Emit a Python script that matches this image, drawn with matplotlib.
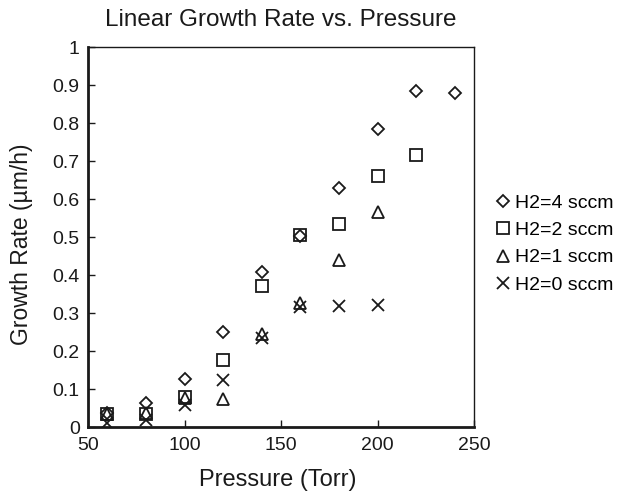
import matplotlib
matplotlib.use("Agg")
import matplotlib.pyplot as plt

plt.rcParams['font.family'] = ['Liberation Sans', 'DejaVu Sans']

# pressure (Torr) for each H2 flow
p_h4 = [60, 80, 100, 120, 140, 160, 180, 200, 220, 240]
rate_h4 = [0.036, 0.062, 0.127, 0.250, 0.408, 0.502, 0.628, 0.785, 0.885, 0.880]

p_h2 = [60, 80, 100, 120, 140, 160, 180, 200, 220]
rate_h2 = [0.033, 0.033, 0.080, 0.177, 0.370, 0.505, 0.535, 0.660, 0.717]

p_h1 = [60, 80, 100, 120, 140, 160, 180, 200]
rate_h1 = [0.034, 0.036, 0.076, 0.075, 0.245, 0.327, 0.440, 0.565]

p_h0 = [60, 80, 100, 120, 140, 160, 180, 200]
rate_h0 = [0.010, 0.018, 0.057, 0.125, 0.235, 0.315, 0.318, 0.320]

labels = ['H2=4 sccm', 'H2=2 sccm', 'H2=1 sccm', 'H2=0 sccm']

ink = '#1a1a1a'

fig = plt.figure(figsize=(6.22, 4.91), dpi=100)
ax = fig.add_axes([88 / 622, 1 - 427 / 491, 386 / 622, 380 / 491])

style = dict(linestyle='none', color=ink, markerfacecolor='none',
             markeredgewidth=1.3)
ax.plot(p_h4, rate_h4, marker='D', markersize=6, label=labels[0], **style)
ax.plot(p_h2, rate_h2, marker='s', markersize=8.5, label=labels[1], **style)
ax.plot(p_h1, rate_h1, marker='^', markersize=9, label=labels[2], **style)
ax.plot(p_h0, rate_h0, marker='x', markersize=9, label=labels[3], **style)

ax.set_xlim(50, 250)
ax.set_ylim(0, 1)
ax.set_xticks([50, 100, 150, 200, 250])
ax.set_yticks([i / 10 for i in range(11)])
ax.set_yticklabels(['0'] + ['0.%d' % i for i in range(1, 10)] + ['1'])
ax.tick_params(direction='in', length=5, width=1, labelsize=14,
               colors=ink, pad=6)
ax.tick_params(axis='x', pad=7)
for side in ['left', 'bottom']:
    ax.spines[side].set_linewidth(2)
for side in ['top', 'right']:
    ax.spines[side].set_linewidth(1)
for s in ax.spines.values():
    s.set_color(ink)

fig.text(281 / 622, 1 - 20 / 491, 'Linear Growth Rate vs. Pressure',
         ha='center', va='center', fontsize=17.5, color=ink)
fig.text(278 / 622, 1 - 486 / 491, 'Pressure (Torr)',
         ha='center', va='baseline', fontsize=17, color=ink)
fig.text(22 / 622, 1 - 244 / 491, 'Growth Rate (\u00b5m/h)', rotation=90,
         ha='center', va='center', fontsize=16.5, color=ink)

fig.legend(loc='center left', bbox_to_anchor=(488 / 622, 1 - 244 / 491),
           frameon=False, fontsize=14, handlelength=0.55, handletextpad=0.35,
           labelspacing=0.5, borderpad=0)

fig.savefig('out.png', dpi=100)
